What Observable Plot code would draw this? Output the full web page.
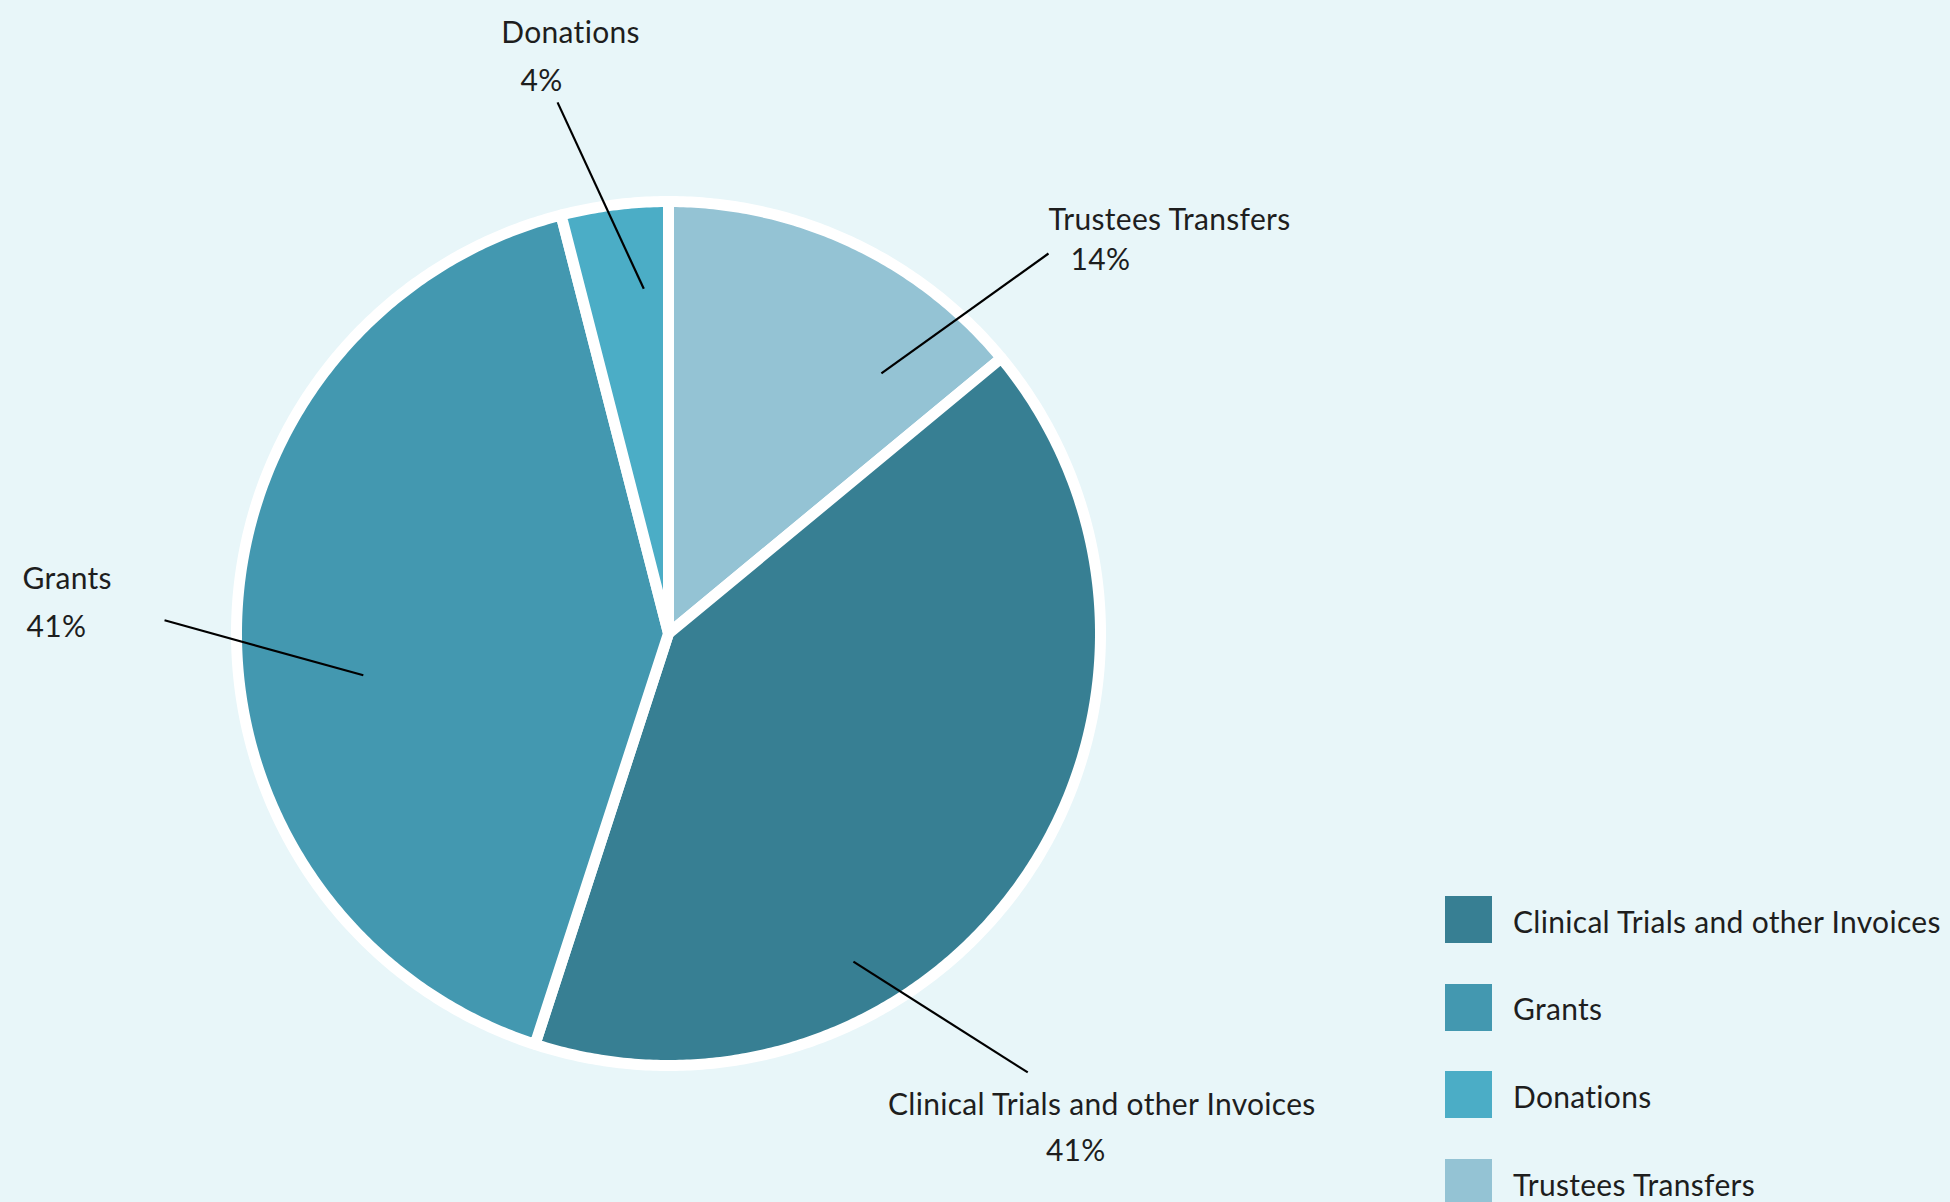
<!DOCTYPE html>
<html>
<head>
<meta charset="utf-8">
<script src="https://cdn.jsdelivr.net/npm/d3@7"></script>
<script src="https://cdn.jsdelivr.net/npm/@observablehq/plot@0.6"></script>
<style>
  html, body { margin: 0; padding: 0; background: #e8f6f9; width: 1950px; height: 1202px; overflow: hidden; }
  body { font-family: Lato, "Open Sans", sans-serif; color: #1e1e1e; font-variant-ligatures: none; }
  #wrap { position: relative; width: 1950px; height: 1202px; }
  #chart svg { display: block; background: transparent; font-variant-ligatures: none; }
  #legend { position: absolute; left: 1445px; top: 896px; }
  .item { display: flex; align-items: center; height: 47px; margin-bottom: 40.7px; }
  .sw { width: 47px; height: 47px; margin-right: 21px; flex: none; }
  .lab { font-size: 30px; white-space: nowrap; color: #1e1e1e; letter-spacing: 0.3px; padding-top: 2px; }
</style>
</head>
<body>
<div id="wrap">
  <div id="chart"></div>
  <div id="legend"></div>
</div>
<script>
// ---- data ----
const categories = ["Clinical Trials and other Invoices", "Grants", "Donations", "Trustees Transfers"];
const shares = [41, 41, 4, 14];
const percentLabels = ["41%", "41%", "4%", "14%"];
const colors = ["#377f93", "#4398b0", "#4badc6", "#94c3d4"];
// order in which slices run clockwise from 12 o'clock
const clockwiseOrder = ["Trustees Transfers", "Clinical Trials and other Invoices", "Grants", "Donations"];

// ---- annotation layout (leader lines): degrees clockwise from 12 o'clock, radius as fraction of pie radius ----
const leaderLayout = {
  "Donations": {from: [355.9, 0.80], to: [348.2, 1.256], name: {dx: 13, dy: -59, anchor: "middle"}, pct: {dx: -16, dy: -11, anchor: "middle"}},
  "Trustees Transfers": {from: [39.3, 0.778], to: [45, 1.244], name: {dx: 0, dy: -23, anchor: "start"}, pct: {dx: 22, dy: 17, anchor: "start"}},
  "Grants": {from: [262.2, 0.713], to: [271.5, 1.167], name: {dx: -142, dy: -31, anchor: "start"}, pct: {dx: -138, dy: 17, anchor: "start"}},
  "Clinical Trials and other Invoices": {from: [150.6, 0.872], to: [140.7, 1.313], name: {dx: 74, dy: 43, anchor: "middle"}, pct: {dx: 48, dy: 89, anchor: "middle"}}
};

// ---- geometry ----
const W = 1950, H = 1202;
const R = 432;          // pie radius in px
const cx = 668, cy = 633;

const rows = categories.map((c, i) => ({name: c, share: shares[i], pct: percentLabels[i]}));
const ordered = clockwiseOrder.map(n => rows.find(r => r.name === n));
const arcs = d3.pie().sort(null).value(d => d.share)(ordered);

const polar = (deg, r) => {
  const a = deg * Math.PI / 180;
  return {x: r * Math.sin(a), y: -r * Math.cos(a)};
};

const slicePts = [];
for (const a of arcs) {
  slicePts.push({name: a.data.name, x: 0, y: 0});
  const steps = Math.max(8, Math.ceil((a.endAngle - a.startAngle) / (Math.PI / 360)));
  for (let k = 0; k <= steps; k++) {
    const t = a.startAngle + (a.endAngle - a.startAngle) * k / steps;
    slicePts.push({name: a.data.name, x: Math.sin(t), y: -Math.cos(t)});
  }
}

const leaders = rows.map(r => {
  const L = leaderLayout[r.name];
  const p1 = polar(L.from[0], L.from[1]);
  const p2 = polar(L.to[0], L.to[1]);
  return {name: r.name, x1: p1.x, y1: p1.y, x2: p2.x, y2: p2.y, L, pct: r.pct};
});
const texts = [];
for (const l of leaders) {
  texts.push({text: l.name, x: l.x2 + l.L.name.dx / R, y: l.y2 + l.L.name.dy / R, anchor: l.L.name.anchor});
  texts.push({text: l.pct, x: l.x2 + l.L.pct.dx / R, y: l.y2 + l.L.pct.dy / R, anchor: l.L.pct.anchor});
}

const textOpts = anchor => ({
  x: "x", y: "y", text: "text", textAnchor: anchor, lineAnchor: "bottom",
  fontSize: 30, fill: "#1e1e1e", fontFamily: "Lato, 'Open Sans', sans-serif"
});

const chart = Plot.plot({
  width: W, height: H,
  margin: 0,
  x: {domain: [-cx / R, (W - cx) / R], range: [0, W], axis: null},
  y: {domain: [-cy / R, (H - cy) / R], range: [0, H], axis: null},
  color: {domain: categories, range: colors},
  style: {background: "transparent", overflow: "visible", letterSpacing: "0.3px"},
  marks: [
    Plot.line(slicePts, {x: "x", y: "y", z: "name", fill: "name", stroke: "white", strokeWidth: 11, curve: "linear-closed"}),
    Plot.link(leaders, {x1: "x1", y1: "y1", x2: "x2", y2: "y2", stroke: "#000", strokeWidth: 2.2}),
    Plot.text(texts.filter(d => d.anchor === "start"), textOpts("start")),
    Plot.text(texts.filter(d => d.anchor === "middle"), textOpts("middle"))
  ]
});
document.getElementById("chart").appendChild(chart);

// ---- legend ----
const legend = document.getElementById("legend");
categories.forEach((c, i) => {
  const item = document.createElement("div");
  item.className = "item";
  const sw = document.createElement("div");
  sw.className = "sw";
  sw.style.background = colors[i];
  const lab = document.createElement("div");
  lab.className = "lab";
  lab.textContent = c;
  item.appendChild(sw);
  item.appendChild(lab);
  legend.appendChild(item);
});
</script>
</body>
</html>
